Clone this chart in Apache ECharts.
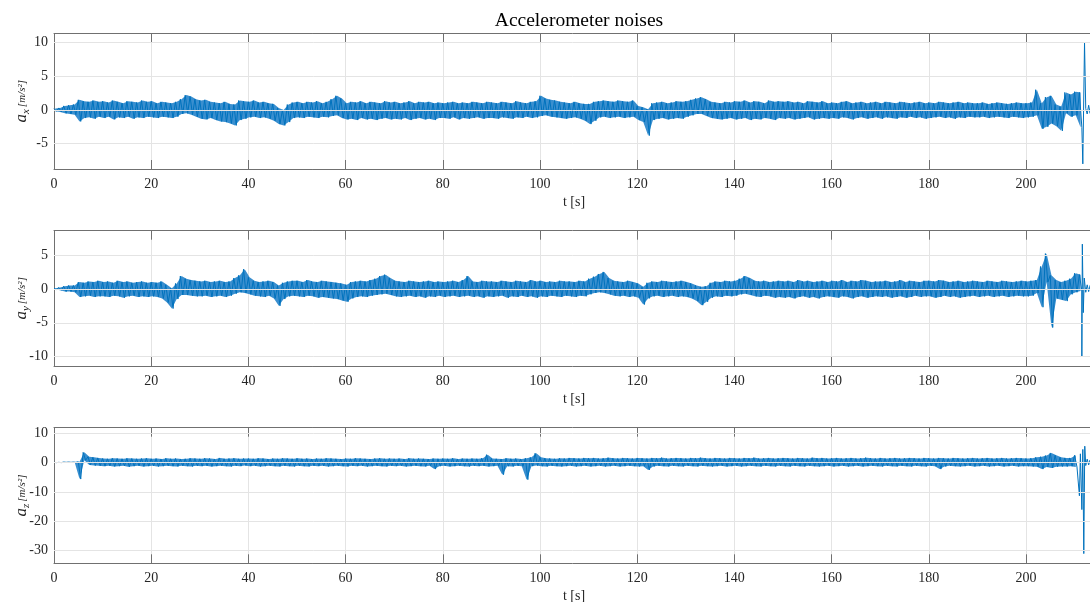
<!DOCTYPE html>
<html><head><meta charset="utf-8">
<script src="https://cdn.jsdelivr.net/npm/echarts@6/dist/echarts.min.js"></script>
<style>html,body{margin:0;padding:0;background:#fff}#c{width:1090px;height:602px}</style>
</head><body><div id="c"></div>
<script>
// ---------- data ----------
const titleText = 'Accelerometer noises';
const xTicks = [0,20,40,60,80,100,120,140,160,180,200];
const yTicksX = [-5,0,5,10];
const yTicksY = [-10,-5,0,5];
const yTicksZ = [-30,-20,-10,0,10];
// per-second envelope (peak / trough within each second), t = 0, 1, 2, ... s
const axHi = [0.2,0.3,0.6,0.7,0.8,1.5,1.3,1.2,1.4,1.2, 1.3,1.1,1.4,1.2,1.0,1.3,1.2,1.1,1.4,1.2,
 1.3,1.0,1.2,1.1,1.0,1.2,1.6,2.2,2.0,1.6, 1.4,1.5,1.2,1.1,1.0,1.2,0.9,0.8,1.4,1.3,
 1.2,1.4,1.1,1.2,1.0,0.9,0.3,0.0,0.8,1.1, 1.2,1.0,1.2,1.1,1.3,1.0,1.2,1.6,2.1,1.7,
 1.0,1.2,1.1,1.3,1.0,1.2,1.1,1.0,1.3,1.1, 1.2,1.0,1.1,1.3,1.0,1.2,1.1,1.2,1.0,1.1,
 1.0,1.1,1.2,1.0,1.1,1.0,1.2,1.1,1.0,1.2, 1.1,1.0,1.2,1.1,1.0,1.3,1.1,1.0,1.2,1.3,
 2.1,1.7,1.5,1.4,1.2,1.1,1.0,1.2,1.0,0.9, 0.9,1.2,1.3,1.4,1.3,1.2,1.4,1.3,1.2,1.4,
 0.6,0.4,0.1,1.0,1.1,1.2,1.0,1.1,1.3,1.2, 1.3,1.5,1.7,1.9,1.6,1.2,1.1,1.0,1.2,1.1,
 1.3,1.2,1.4,1.1,1.3,1.2,1.0,1.4,1.2,1.3, 1.2,1.3,1.1,1.2,1.0,1.3,1.2,1.1,1.3,1.0,
 1.1,1.0,1.2,1.3,1.0,1.1,1.2,1.0,1.1,1.2, 1.0,1.2,1.1,1.0,1.2,1.1,1.0,1.1,1.2,1.0,
 1.1,1.0,1.2,1.1,1.0,1.1,1.2,1.0,1.1,1.0, 1.0,1.1,0.9,1.0,1.1,1.0,0.9,1.0,1.1,1.0,
 1.0,1.1,3.0,1.0,1.9,2.1,0.8,0.5,2.6,2.3, 2.7,2.6];
const axLo = [-0.2,-0.3,-0.5,-0.6,-0.7,-1.7,-1.2,-1.1,-1.3,-1.0, -1.2,-1.0,-1.4,-1.1,-1.2,-1.0,-1.3,-1.1,-1.2,-1.0,
 -1.1,-1.2,-1.0,-1.1,-1.2,-1.0,-0.6,-0.5,-0.7,-1.0, -1.3,-1.4,-1.2,-1.5,-1.7,-1.8,-2.0,-2.3,-1.5,-1.3,
 -1.1,-1.0,-1.2,-1.1,-1.3,-1.6,-2.1,-2.3,-1.8,-1.2, -1.1,-1.2,-1.0,-1.1,-1.2,-1.0,-1.1,-0.9,-0.8,-1.2,
 -1.4,-1.3,-1.5,-1.2,-1.4,-1.3,-1.5,-1.3,-1.2,-1.4, -1.3,-1.4,-1.2,-1.5,-1.3,-1.2,-1.4,-1.3,-1.5,-1.2,
 -1.2,-1.3,-1.1,-1.4,-1.2,-1.3,-1.2,-1.1,-1.3,-1.2, -1.2,-1.3,-1.1,-1.2,-1.3,-1.1,-1.2,-1.0,-1.2,-1.1,
 -0.9,-0.8,-1.0,-1.1,-1.2,-1.3,-1.2,-1.1,-1.3,-1.6, -2.1,-1.6,-1.1,-1.0,-1.2,-1.1,-1.0,-1.2,-1.1,-1.0,
 -1.5,-1.8,-3.8,-1.5,-1.3,-1.2,-1.4,-1.3,-1.2,-1.3, -1.0,-0.8,-0.6,-0.6,-0.9,-1.2,-1.3,-1.4,-1.3,-1.2,
 -1.4,-1.3,-1.2,-1.5,-1.3,-1.4,-1.2,-1.3,-1.5,-1.2, -1.3,-1.2,-1.4,-1.3,-1.2,-1.1,-1.4,-1.3,-1.2,-1.3,
 -1.2,-1.3,-1.1,-1.2,-1.4,-1.2,-1.1,-1.3,-1.2,-1.1, -1.3,-1.1,-1.2,-1.3,-1.1,-1.2,-1.0,-1.2,-1.1,-1.3,
 -1.2,-1.1,-1.0,-1.2,-1.1,-1.3,-1.1,-1.2,-1.0,-1.1, -1.1,-1.0,-1.2,-1.1,-1.0,-1.1,-1.2,-1.0,-1.1,-1.2,
 -1.1,-1.0,-0.8,-2.8,-2.5,-2.0,-2.4,-3.1,-0.5,-1.0, -0.8,-2.6];
// final spikes and settling after the envelope ends
const axTail = [[211.7,-8.0],[212.05,10.0],[212.3,0.2],[212.6,-0.6],[212.9,0.7],[213.2,-0.5],[213.5,0.5],[213.8,-0.3],[214,0.2]];

const ayHi = [0.1,0.2,0.4,0.5,0.5,1.0,0.9,1.1,1.0,1.2, 1.0,1.1,0.9,1.2,1.0,1.1,0.9,1.0,1.1,0.9,
 1.0,0.9,1.1,0.6,0.1,0.8,1.9,1.5,1.3,1.2, 1.1,1.2,1.0,1.1,1.2,1.0,1.1,1.6,2.0,2.9,
 1.7,1.2,1.0,1.1,1.2,1.0,0.5,0.9,1.1,1.2, 1.2,1.0,1.3,1.1,1.0,1.2,1.1,1.0,0.9,0.8,
 0.6,1.0,1.1,1.2,1.1,1.3,1.5,1.9,2.1,1.6, 1.2,1.1,1.0,1.2,1.1,1.0,1.1,1.2,1.0,1.1,
 1.0,1.1,1.2,1.0,1.3,1.9,1.1,1.0,1.2,1.1, 1.1,1.0,1.2,1.1,1.0,1.2,1.1,1.0,1.3,1.1,
 1.2,1.0,1.1,1.0,1.2,1.1,1.1,1.0,1.2,1.1, 1.5,1.8,2.2,2.5,1.6,1.2,1.1,1.0,1.2,1.0,
 0.8,0.3,0.9,1.1,1.0,1.2,1.1,1.0,1.1,1.2, 1.0,0.8,0.5,0.3,0.4,0.9,1.1,1.0,1.2,1.1,
 1.2,1.5,1.9,1.6,1.2,1.1,1.2,1.0,1.1,1.2, 1.1,1.2,1.0,1.3,1.1,1.2,1.0,1.1,1.2,1.0,
 1.2,1.1,1.3,1.0,1.2,1.1,1.3,1.2,1.0,1.1, 1.1,1.2,1.0,1.1,1.3,1.0,1.2,1.1,1.0,1.2,
 1.2,1.1,1.3,1.2,1.0,1.1,1.2,1.0,1.1,1.2, 1.1,1.0,1.2,1.1,1.0,1.2,1.1,1.0,1.1,1.2,
 1.1,1.2,1.3,3.3,5.2,2.0,1.3,1.0,1.2,1.5, 2.3,2.1];
const ayLo = [-0.1,-0.2,-0.4,-0.4,-0.5,-1.2,-1.1,-1.0,-1.2,-1.1, -1.1,-1.2,-1.0,-1.1,-1.3,-1.1,-1.0,-1.2,-1.1,-1.2,
 -1.1,-1.2,-1.4,-2.0,-2.9,-1.5,-0.9,-0.9,-1.0,-1.1, -1.1,-1.0,-1.2,-1.1,-1.0,-1.2,-1.0,-0.7,-0.5,-0.6,
 -0.8,-1.0,-1.1,-1.2,-1.0,-1.4,-2.5,-1.5,-1.1,-1.0, -1.1,-1.2,-1.0,-1.1,-1.3,-1.2,-1.3,-1.4,-1.5,-1.7,
 -1.9,-1.4,-1.2,-1.1,-1.2,-1.0,-0.9,-0.8,-0.7,-0.9, -1.1,-1.2,-1.1,-1.0,-1.2,-1.1,-1.3,-1.1,-1.2,-1.0,
 -1.2,-1.1,-1.0,-1.2,-1.1,-1.0,-1.2,-1.1,-1.3,-1.1, -1.2,-1.1,-1.0,-1.3,-1.1,-1.2,-1.0,-1.2,-1.1,-1.3,
 -1.1,-1.2,-1.0,-1.1,-1.2,-1.0,-1.1,-1.2,-1.0,-1.1, -0.8,-0.6,-0.5,-0.6,-0.8,-1.0,-1.1,-1.0,-1.2,-1.1,
 -1.3,-2.3,-1.4,-1.1,-1.0,-1.2,-1.1,-1.0,-1.2,-1.1, -1.2,-1.4,-1.8,-2.4,-1.9,-1.3,-1.1,-1.2,-1.0,-1.1,
 -1.0,-0.8,-0.7,-0.9,-1.1,-1.2,-1.0,-1.1,-1.3,-1.2, -1.3,-1.2,-1.4,-1.2,-1.1,-1.3,-1.2,-1.4,-1.2,-1.1,
 -1.2,-1.3,-1.1,-1.2,-1.4,-1.2,-1.1,-1.3,-1.2,-1.1, -1.2,-1.1,-1.3,-1.2,-1.1,-1.3,-1.2,-1.0,-1.2,-1.1,
 -1.1,-1.3,-1.2,-1.0,-1.2,-1.1,-1.3,-1.2,-1.1,-1.0, -1.2,-1.1,-1.0,-1.2,-1.1,-1.0,-1.2,-1.1,-1.0,-1.1,
 -1.1,-1.0,-0.6,-2.7,1.0,-5.7,-1.4,-1.6,-1.8,-0.8, -0.5,-0.3];
const ayTail = [[211.5,-9.9],[211.6,6.6],[211.8,-3.5],[212.0,1.6],[212.3,-0.5],[212.6,0.6],[212.9,-0.4],[213.2,0.5],[213.5,-0.3],[213.8,0.4],[214,0.1]];

const azHi = [0.1,0.1,0.2,0.2,0.2,0.3,3.5,2.0,1.8,1.6, 1.4,1.3,1.5,1.4,1.3,1.5,1.4,1.3,1.4,1.5,
 1.3,1.4,1.2,1.5,1.3,1.4,1.2,1.3,1.5,1.4, 1.3,1.5,1.4,1.2,1.6,1.3,1.4,1.5,1.3,1.4,
 1.4,1.3,1.5,1.4,1.2,1.4,1.3,1.5,1.4,1.3, 1.5,1.3,1.4,1.2,1.4,1.3,1.5,1.4,1.3,1.2,
 1.4,1.3,1.5,1.4,1.3,1.2,1.4,1.5,1.3,1.4, 1.3,1.4,1.2,1.5,1.3,1.4,1.3,1.2,1.4,1.3,
 1.4,1.3,1.5,1.2,1.4,1.3,1.4,1.3,1.5,2.7, 1.4,1.3,1.2,1.5,1.3,1.4,1.2,1.5,1.8,3.2,
 1.8,1.5,1.4,1.3,1.5,1.4,1.6,1.5,1.4,1.6, 1.5,1.6,1.4,1.5,1.7,1.5,1.4,1.6,1.5,1.4,
 1.6,1.5,1.4,1.6,1.5,1.7,1.4,1.5,1.6,1.5, 1.4,1.6,1.5,1.7,1.5,1.4,1.6,1.5,1.4,1.6,
 1.5,1.4,1.6,1.5,1.7,1.4,1.5,1.6,1.4,1.5, 1.6,1.5,1.4,1.6,1.5,1.4,1.7,1.5,1.6,1.4,
 1.5,1.6,1.4,1.5,1.6,1.4,1.5,1.7,1.5,1.4, 1.6,1.4,1.5,1.6,1.4,1.5,1.6,1.5,1.4,1.6,
 1.5,1.4,1.6,1.5,1.4,1.6,1.5,1.4,1.5,1.6, 1.4,1.5,1.6,1.4,1.5,1.6,1.4,1.5,1.6,1.5,
 1.4,1.5,1.8,2.0,2.4,3.3,2.5,1.8,1.6,1.6, 2.5];
const azLo = [0.0,0.0,0.1,0.1,0.1,-5.6,0.8,-0.8,-1.0,-1.1, -1.2,-1.1,-1.3,-1.2,-1.1,-1.4,-1.2,-1.1,-1.3,-1.2,
 -1.1,-1.3,-1.2,-1.1,-1.2,-1.3,-1.1,-1.2,-1.3,-1.1, -1.2,-1.1,-1.3,-1.2,-1.1,-1.2,-1.3,-1.1,-1.2,-1.0,
 -1.2,-1.1,-1.3,-1.2,-1.1,-1.2,-1.3,-1.1,-1.2,-1.3, -1.1,-1.2,-1.3,-1.1,-1.2,-1.1,-1.3,-1.2,-1.1,-1.2,
 -1.3,-1.1,-1.2,-1.1,-1.3,-1.2,-1.1,-1.2,-1.3,-1.1, -1.2,-1.1,-1.3,-1.2,-1.1,-1.2,-1.3,-1.1,-2.2,-1.2,
 -1.1,-1.3,-1.2,-1.1,-1.2,-1.3,-1.1,-1.2,-1.1,-1.3, -1.2,-1.1,-4.1,-1.2,-1.3,-1.1,-1.2,-5.8,-1.2,-1.0,
 -1.2,-1.3,-1.1,-1.2,-1.3,-1.2,-1.1,-1.3,-1.2,-1.1, -1.3,-1.2,-1.1,-1.3,-1.2,-1.1,-1.3,-1.2,-1.1,-1.2,
 -1.3,-1.2,-2.5,-1.3,-1.1,-1.2,-1.3,-1.1,-1.2,-1.3, -1.1,-1.2,-1.3,-1.1,-1.2,-1.3,-1.2,-1.1,-1.3,-1.2,
 -1.1,-1.3,-1.2,-1.1,-1.2,-1.3,-1.1,-1.2,-1.3,-1.1, -1.2,-1.3,-1.1,-1.2,-1.3,-1.1,-1.2,-1.3,-1.2,-1.1,
 -1.3,-1.2,-1.1,-1.3,-1.2,-1.1,-1.3,-1.2,-1.1,-1.2, -1.3,-1.1,-1.2,-1.3,-1.1,-1.2,-1.3,-1.1,-1.2,-1.3,
 -1.1,-1.2,-2.2,-1.3,-1.1,-1.2,-1.3,-1.2,-1.1,-1.3, -1.2,-1.1,-1.3,-1.2,-1.1,-1.3,-1.2,-1.1,-1.3,-1.2,
 -1.2,-1.3,-1.4,-2.2,-1.5,-1.8,-1.4,-1.3,-1.3,-1.2, -1.5];
const azTail = [[211.0,-11.3],[211.2,3.0],[211.5,-16.0],[211.7,4.5],[211.9,-31.0],[212.1,5.6],[212.3,-1.0],[212.6,1.2],[212.9,-0.8],[213.2,0.9],[213.5,-0.6],[213.8,0.5],[214,0.0]];

// ---------- chart ----------
function zigzag(hi, lo, tail) {
  const pts = [];
  for (let i = 0; i < hi.length; i++) { pts.push([i, hi[i]]); pts.push([i + 0.5, lo[i]]); }
  return pts.concat(tail);
}

const FONT = '"Liberation Serif", "DejaVu Serif", serif';
const TXT = '#262626';
const BOX = '#707070';
const GRIDC = '#e4e4e4';
const LINE = '#0072BD';
const BAND = '#3a8fcf';
const plots = [
  { top: 33.5, height: 135.5, min: -8.76, max: 11.34, ticks: yTicksX, sub: 'x', hi: axHi, lo: axLo, tail: axTail },
  { top: 230.7, height: 135.3, min: -11.37, max: 8.58, ticks: yTicksY, sub: 'y', hi: ayHi, lo: ayLo, tail: ayTail },
  { top: 427.7, height: 135.6, min: -34.3, max: 11.9, ticks: yTicksZ, sub: 'z', hi: azHi, lo: azLo, tail: azTail }
];
const XMAX = 214;
const grid = [], xAxis = [], yAxis = [], series = [];
plots.forEach((p, k) => {
  grid.push({ left: 54, width: 1040, top: p.top, height: p.height, outerBoundsMode: 'none', containLabel: false });
  const tickStyle = { show: true, inside: true, length: 9, lineStyle: { color: BOX, width: 1 } };
  xAxis.push({
    type: 'value', gridIndex: k, min: 0, max: XMAX, interval: 20, position: 'bottom',
    axisLine: { show: true, onZero: false, lineStyle: { color: BOX, width: 1 } },
    axisTick: tickStyle,
    axisLabel: { showMaxLabel: false, fontFamily: FONT, fontSize: 14, color: TXT, margin: 8 },
    splitLine: { show: true, lineStyle: { color: GRIDC, width: 1 } },
    name: 't [s]', nameLocation: 'middle', nameGap: 26, nameMoveOverlap: false,
    nameTextStyle: { fontFamily: FONT, fontSize: 14, color: TXT }
  });
  xAxis.push({
    type: 'value', gridIndex: k, min: 0, max: XMAX, interval: 20, position: 'top',
    axisLine: { show: true, onZero: false, lineStyle: { color: BOX, width: 1 } },
    axisTick: tickStyle, axisLabel: { show: false }, splitLine: { show: false }
  });
  yAxis.push({
    type: 'value', gridIndex: k, min: p.min, max: p.max, position: 'left',
    axisLine: { show: true, onZero: false, lineStyle: { color: BOX, width: 1 } },
    axisTick: Object.assign({}, tickStyle, { customValues: p.ticks }),
    axisLabel: { customValues: p.ticks, fontFamily: FONT, fontSize: 14, color: TXT, margin: 6 },
    splitLine: { show: false },
    name: '{a|a}{s|' + p.sub + '}{g| }{f|[m/s²]}', nameLocation: 'middle', nameGap: 32, nameRotate: 90,
    nameMoveOverlap: false,
    nameTextStyle: {
      color: TXT, fontFamily: FONT, align: 'center', verticalAlign: 'middle',
      rich: {
        a: { fontFamily: FONT, fontStyle: 'italic', fontSize: 17, color: TXT, lineHeight: 20 },
        s: { fontFamily: FONT, fontStyle: 'italic', fontSize: 11, color: TXT, lineHeight: 20, padding: [9, 0, 0, 0] },
        g: { fontSize: 8, lineHeight: 20 },
        f: { fontFamily: FONT, fontStyle: 'italic', fontSize: 11, color: TXT, lineHeight: 20 }
      }
    }
  });
  yAxis.push({
    type: 'value', gridIndex: k, min: p.min, max: p.max, position: 'right',
    axisLine: { show: true, onZero: false, lineStyle: { color: BOX, width: 1 } },
    axisTick: Object.assign({}, tickStyle, { customValues: p.ticks }),
    axisLabel: { show: false }, splitLine: { show: false }
  });
  // horizontal grid lines at the y tick values
  series.push({
    type: 'line', xAxisIndex: 2 * k, yAxisIndex: 2 * k, data: [], z: 1, silent: true,
    markLine: {
      silent: true, symbol: 'none', label: { show: false }, animation: false,
      lineStyle: { color: GRIDC, type: 'solid', width: 1 },
      data: p.ticks.map(v => ({ yAxis: v }))
    }
  });
  // envelope band (trough -> peak of each second), one polygon through the axes' scales
  const hi = p.hi, lo = p.lo;
  series.push({
    type: 'custom', xAxisIndex: 2 * k, yAxisIndex: 2 * k, z: 2, silent: true,
    data: [[0, 0]], encode: { x: 0, y: 1 },
    renderItem: function (params, api) {
      const pts = [];
      for (let i = 0; i < hi.length; i++) pts.push(api.coord([i + 0.25, hi[i]]));
      for (let i = lo.length - 1; i >= 0; i--) pts.push(api.coord([i + 0.25, lo[i]]));
      const cs = params.coordSys;
      return {
        type: 'polygon', shape: { points: pts }, style: { fill: BAND },
        clipPath: { type: 'rect', shape: { x: cs.x, y: cs.y, width: cs.width, height: cs.height } }
      };
    }
  });
  // signal trace
  series.push({
    type: 'line', xAxisIndex: 2 * k, yAxisIndex: 2 * k, data: zigzag(p.hi, p.lo, p.tail), z: 3,
    showSymbol: false, symbol: 'none', sampling: false, clip: true,
    lineStyle: { color: LINE, width: 1 }
  });
});
const chart = echarts.init(document.getElementById('c'), null, { renderer: 'canvas' });
chart.setOption({
  animation: false, backgroundColor: '#ffffff',
  title: { text: titleText, left: 574, top: 6, textAlign: 'center',
    textStyle: { fontFamily: FONT, fontSize: 19.5, fontWeight: 'normal', color: '#000' } },
  grid, xAxis, yAxis, series
});
</script></body></html>
